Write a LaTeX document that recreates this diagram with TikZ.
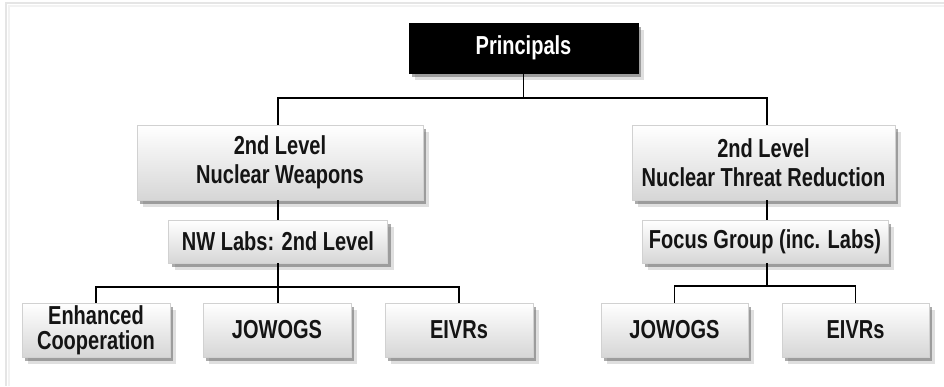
\documentclass[tikz,border=0pt]{standalone}
\usepackage{fontspec}
\newfontfamily\boxfont[FakeStretch=0.77]{Liberation Sans}
\usetikzlibrary{shadows}
\begin{document}
\begin{tikzpicture}[x=0.75pt,y=-0.75pt,
  conn/.style={draw=black,line width=1.1pt},
  softshadow/.style={
    general shadow={fill=black!35,opacity=0.35,shadow xshift=4.5pt,shadow yshift=-5pt},
    general shadow={fill=black!60,opacity=0.55,shadow xshift=2.5pt,shadow yshift=-3pt}},
  box/.style={softshadow,draw=black!18,line width=0.4pt,top color=white,bottom color=black!16,
    inner sep=0pt,align=center,text=black!92,
    font=\boxfont\bfseries\fontsize{19.5}{22}\selectfont},
  topbox/.style={softshadow,fill=black,draw=black,inner sep=0pt,text=white,
    font=\boxfont\bfseries\fontsize{19.5}{22}\selectfont}
]
\fill[white] (0,0) rectangle (944,386);
\useasboundingbox (0,0) rectangle (944,386);
\draw[black!10,line width=2pt] (6,386) -- (6,3) -- (944,3);
\draw[black!5,line width=1.5pt] (8.5,386) -- (8.5,5.5) -- (944,5.5);

\node[topbox,minimum width=229*0.75pt,minimum height=50*0.75pt] (P) at (523.5,48) {Principals};
\node[box,minimum width=286*0.75pt,minimum height=75*0.75pt] (L2a) at (280,162.5) {2nd Level\\Nuclear Weapons};
\node[box,minimum width=263*0.75pt,minimum height=75*0.75pt] (L2b) at (763.5,162.5) {2nd Level\\Nuclear Threat Reduction};
\node[box,minimum width=219*0.75pt,minimum height=43*0.75pt] (NW) at (278,241.5) {NW Labs: 2nd Level};
\node[box,minimum width=246*0.75pt,minimum height=43*0.75pt] (FG) at (765,241.5) {Focus Group (inc. Labs)};
\node[box,minimum width=148*0.75pt,minimum height=54*0.75pt,font=\boxfont\bfseries\fontsize{19.5}{18.5}\selectfont] (EC) at (96,330) {Enhanced\\Cooperation};
\node[box,minimum width=148*0.75pt,minimum height=54*0.75pt] (J1) at (277,330) {JOWOGS};
\node[box,minimum width=148*0.75pt,minimum height=54*0.75pt] (E1) at (459,330) {EIVRs};
\node[box,minimum width=147*0.75pt,minimum height=54*0.75pt] (J2) at (674.5,330) {JOWOGS};
\node[box,minimum width=147*0.75pt,minimum height=54*0.75pt] (E2) at (855.5,330) {EIVRs};

\coordinate (h1) at (523.5,98);
\coordinate (h2) at (278,287);
\coordinate (h3) at (767,286);

\path[conn] (P.south) -- (h1);
\path[conn] (L2a.north -| h2) |- (h1) -| (L2b.north -| h3);
\path[conn] (NW.north) -- (NW.north |- L2a.south);
\path[conn] (FG.north -| h3) -- (h3 |- L2b.south);
\path[conn] (NW.south) -- (h2);
\path[conn] (EC.north) |- (h2) -| (E1.north);
\path[conn] (h2) -- (J1.north -| h2);
\path[conn] (FG.south -| h3) -- (h3);
\path[conn] (J2.north) |- (h3) -| (E2.north);
\end{tikzpicture}
\end{document}
